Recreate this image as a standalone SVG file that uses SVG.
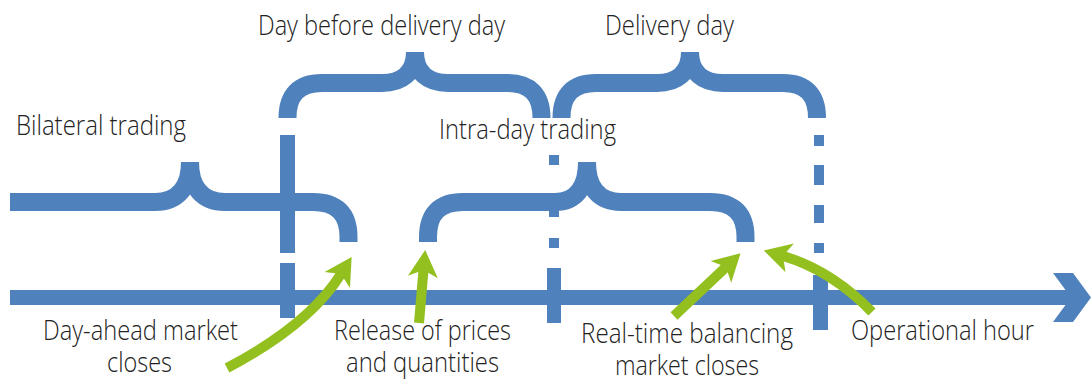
<svg xmlns="http://www.w3.org/2000/svg" width="1091" height="381" viewBox="0 0 1091 381">
  <style>
    text { font-family: "Open Sans", "Liberation Sans", sans-serif; font-size: 28px; font-weight: 300; fill: #222222; }
    .brace { fill: none; stroke: #4F81BD; stroke-width: 18; stroke-linecap: butt; stroke-linejoin: round; }
    .bar { fill: #4F81BD; }
    .flow { fill: none; stroke: #93C01F; stroke-width: 10; stroke-linecap: butt; marker-end: url(#head); }
  </style>
  <defs>
    <!-- notched green arrowhead; origin sits where the shaft ends -->
    <marker id="head" markerUnits="userSpaceOnUse" orient="auto" overflow="visible" markerWidth="40" markerHeight="40" refX="0" refY="0">
      <path d="M20,0 L-7,-15 L0,0 L-7,15 Z" fill="#93C01F"/>
    </marker>
  </defs>

  <!-- time axis with open chevron head -->
  <g id="time-axis">
    <rect class="bar" x="10" y="290" width="1068" height="15"/>
    <polygon class="bar" points="1053,273 1073,273 1091,297.5 1073,322 1053,322 1071,297.5"/>
  </g>

  <!-- boundary markers on the axis -->
  <g id="gate-day-ahead">
    <rect class="bar" x="280" y="135" width="15" height="118"/>
    <rect class="bar" x="280" y="263" width="15" height="55"/>
  </g>
  <g id="gate-midnight">
    <rect class="bar" x="549" y="155" width="10" height="10"/>
    <rect class="bar" x="549" y="195" width="10" height="22"/>
    <rect class="bar" x="549" y="238" width="10" height="10"/>
    <rect class="bar" x="547" y="268" width="14" height="55"/>
  </g>
  <g id="gate-operation">
    <rect class="bar" x="814" y="135" width="10" height="11"/>
    <rect class="bar" x="814" y="165" width="10" height="20"/>
    <rect class="bar" x="814" y="205" width="10" height="18"/>
    <rect class="bar" x="814" y="243" width="10" height="10"/>
    <rect class="bar" x="813" y="275" width="15" height="55"/>
  </g>

  <!-- upper braces: the two days -->
  <g id="day-before">
    <path class="brace" d="M287.5,118 Q287.5,83 322,83 H382 C402,83 415,73 415,52 M415,52 C415,73 428,83 448,83 H507 Q541.5,83 541.5,118"/>
    <text x="258" y="35" textLength="247" lengthAdjust="spacingAndGlyphs">Day before delivery day</text>
  </g>
  <g id="delivery-day">
    <path class="brace" d="M561.5,118 Q561.5,83 596,83 H657 C677,83 690,73 690,52 M690,52 C690,73 703,83 723,83 H783 Q817,83 817,118"/>
    <text x="605" y="35" textLength="129" lengthAdjust="spacingAndGlyphs">Delivery day</text>
  </g>

  <!-- lower braces: trading windows -->
  <g id="bilateral">
    <path class="brace" d="M10,202 H155 C177,202 190,188 190,162 M190,162 C190,188 203,202 225,202 H313 Q348.5,202 348.5,237 V242"/>
    <text x="16" y="135" textLength="170" lengthAdjust="spacingAndGlyphs">Bilateral trading</text>
  </g>
  <g id="intra-day">
    <path class="brace" d="M428,242 V237 Q428,202 463,202 H555 C575,202 587,188 587,162 M587,162 C587,188 599,202 621,202 H710 Q745.5,202 745.5,237 V242"/>
    <text x="439" y="139" textLength="177" lengthAdjust="spacingAndGlyphs">Intra-day trading</text>
  </g>

  <!-- event labels under the axis -->
  <g id="day-ahead-close">
    <text><tspan x="43" y="340" textLength="195" lengthAdjust="spacingAndGlyphs">Day-ahead market</tspan><tspan x="107" y="372" textLength="65" lengthAdjust="spacingAndGlyphs">closes</tspan></text>
  </g>
  <g id="price-release">
    <text><tspan x="334" y="340" textLength="177" lengthAdjust="spacingAndGlyphs">Release of prices</tspan><tspan x="346" y="372" textLength="153" lengthAdjust="spacingAndGlyphs">and quantities</tspan></text>
  </g>
  <g id="balancing-close">
    <text><tspan x="581" y="343" textLength="212" lengthAdjust="spacingAndGlyphs">Real-time balancing</tspan><tspan x="615" y="375" textLength="144" lengthAdjust="spacingAndGlyphs">market closes</tspan></text>
  </g>
  <g id="operational-hour">
    <text x="851" y="340" textLength="183" lengthAdjust="spacingAndGlyphs">Operational hour</text>
  </g>

  <!-- green pointers from events to brace ends -->
  <g id="connectors">
    <path class="flow" d="M227,368 Q309,325 341,274"/>
    <path class="flow" d="M419,323 L423.5,270"/>
    <path class="flow" d="M674,316 L726,267"/>
    <path class="flow" d="M872,312 Q831,270 783,256"/>
  </g>
</svg>
